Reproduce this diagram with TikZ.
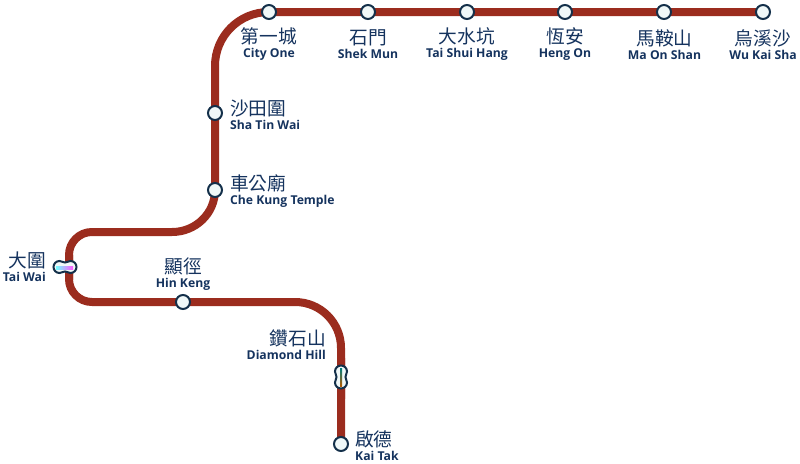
\documentclass[tikz,border=0pt]{standalone}
\usepackage{fontspec}
\setmainfont{Open Sans}
\newfontfamily\cjk{Noto Sans CJK TC}
\usetikzlibrary{backgrounds,calc}
\definecolor{linered}{HTML}{9B2C1E}
\definecolor{lineolive}{HTML}{6E5A22}
\definecolor{navy}{HTML}{15335E}
\definecolor{ringblue}{HTML}{14304A}
\definecolor{stopfill}{HTML}{F0F8F8}
\tikzset{
  stopring/.style={circle,draw=ringblue,fill=stopfill,line width=2pt,minimum size=14pt,inner sep=0pt},
  lbl/.style={align=center,text=navy,inner sep=0pt},
  rail/.style={linered,line width=8pt},
  dblstop/.pic={
    \draw[ringblue,fill=stopfill,line width=2pt] (-5.5,6) arc(90:270:6) .. controls (-3,-6) and (-3,-4.5) .. (0,-4.5)
      .. controls (3,-4.5) and (3,-6) .. (5.5,-6) arc(-90:90:6) .. controls (3,6) and (3,4.5) .. (0,4.5)
      .. controls (-3,4.5) and (-3,6) .. (-5.5,6) -- cycle;
  }
}
\newcommand{\zh}[1]{{\cjk\fontsize{18.7}{20}\selectfont #1}}
\newcommand{\en}[1]{{\fontsize{12.2}{14}\selectfont\bfseries #1}}
\begin{document}
\begin{tikzpicture}[x=1pt,y=1pt]
\useasboundingbox (0,0) rectangle (800,-463);
% stations
\node[stopring] (wks) at (763,-12) {};
\node[stopring] (mos) at (664,-12) {};
\node[stopring] (hen) at (565,-12) {};
\node[stopring] (tsh) at (467,-12) {};
\node[stopring] (skm) at (368,-12) {};
\node[stopring] (cio) at (269,-12) {};
\node[stopring] (stw) at (215,-113) {};
\node[stopring] (ckt) at (215,-190) {};
\node[stopring] (hik) at (183,-302) {};
\node[stopring] (kat) at (341,-444) {};
\coordinate (twi) at (65,-267);
\coordinate (dmh) at (341,-377);
% bends
\coordinate (b1) at (215,-66);
\coordinate (b2) at (172,-232);
\coordinate (b3) at (92,-232);
\coordinate (b4) at (69,-255);
\coordinate (b5) at (69,-279);
\coordinate (b6) at (92,-302);
\coordinate (b7) at (295,-302);
\coordinate (b8) at (341,-348);
\begin{scope}[on background layer]
\draw[rail] (wks.center) -- (cio.center) to[out=180,in=90] (b1) -- (ckt.center)
  to[out=-90,in=0] (b2) -- (b3) to[out=180,in=90] (b4) -- (b5) to[out=-90,in=180] (b6)
  -- (b7) to[out=0,in=90] (b8) -- (kat.center);
\fill[top color=linered,middle color=lineolive,bottom color=linered] (65,-255) rectangle (73,-279);
\fill[top color=linered,middle color=lineolive,bottom color=linered] (337,-358) rectangle (345,-398);
\end{scope}
% double stops
\pic at (twi) {dblstop};
\pic[rotate=90] at (dmh) {dblstop};
\fill[left color=cyan!55!white,right color=magenta!65!white] (56,-266) rectangle (73,-269);
\fill[top color=teal,bottom color=orange!70!black] (340,-368) rectangle (342.2,-386);
% names
\node[lbl] (t1) at (269,-44.5) {\zh{第一城}\\[2pt]\en{City One}};
\node[lbl] (t2) at (368,-44.5) {\zh{石門}\\[2pt]\en{Shek Mun}};
\node[lbl] (t3) at (467,-44.5) {\zh{大水坑}\\[2pt]\en{Tai Shui Hang}};
\node[lbl] (t4) at (565,-44.5) {\zh{恆安}\\[2pt]\en{Heng On}};
\node[lbl] (t5) at (664.5,-44.5) {\zh{馬鞍山}\\[2pt]\en{Ma On Shan}};
\node[lbl] (t6) at (763,-44.5) {\zh{烏溪沙}\\[2pt]\en{Wu Kai Sha}};
\node[lbl,align=left,anchor=west] (t7) at (230,-114.5) {\zh{沙田圍}\\[2pt]\en{Sha Tin Wai}};
\node[lbl,align=left,anchor=west] (t8) at (230,-191.5) {\zh{車公廟}\\[2pt]\en{Che Kung Temple}};
\node[lbl,align=right,anchor=east] (t9) at (46,-267) {\zh{大圍}\\[2pt]\en{Tai Wai}};
\node[lbl] (t10) at (183,-274.5) {\zh{顯徑}\\[2pt]\en{Hin Keng}};
\node[lbl,align=right,anchor=east] (t11) at (326,-345) {\zh{鑽石山}\\[2pt]\en{Diamond Hill}};
\node[lbl,align=left,anchor=west] (t12) at (355,-445.5) {\zh{啟德}\\[2pt]\en{Kai Tak}};
\end{tikzpicture}
\end{document}
